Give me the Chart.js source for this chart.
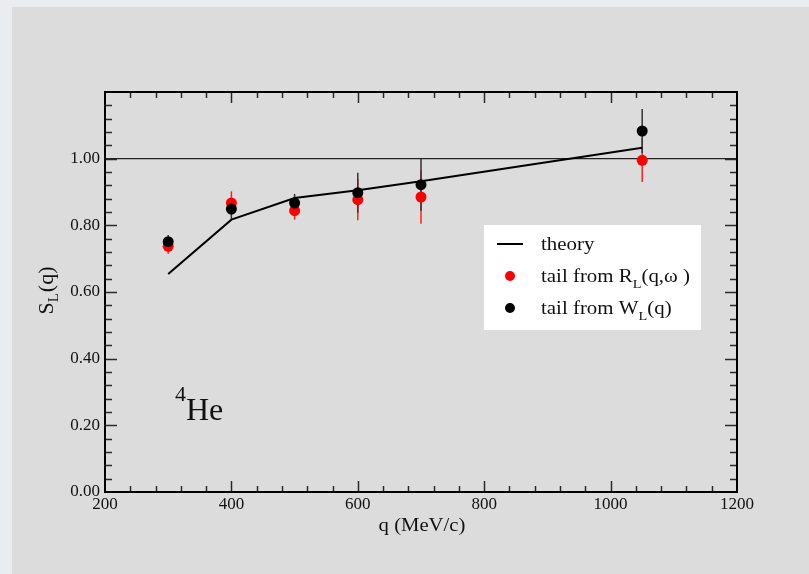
<!DOCTYPE html>
<html>
<head>
<meta charset="utf-8">
<script src="https://cdn.jsdelivr.net/npm/chart.js@4.4.0/dist/chart.umd.min.js"></script>
<style>
  html, body { margin: 0; padding: 0; background: #eaedf0; }
  #wrap { position: absolute; left: 0; top: 0; width: 809px; height: 574px; }
</style>
</head>
<body>
<div id="wrap"><canvas id="chart" width="809" height="574"></canvas></div>
<script>
// data
const qTheory = [300, 400, 500, 600, 700, 1050];
const sTheory = [0.654, 0.817, 0.882, 0.905, 0.932, 1.033];

const qData = [300, 400, 500, 600, 700, 1050];
const sR = [0.737, 0.867, 0.844, 0.877, 0.885, 0.995];   // tail from R_L(q,w)
const errR = [0.022, 0.035, 0.027, 0.062, 0.080, 0.065];
const sW = [0.751, 0.849, 0.867, 0.898, 0.922, 1.083];   // tail from W_L(q)
const errW = [0.020, 0.030, 0.027, 0.060, 0.078, 0.066];

const qRef = [200, 1200];
const sRef = [1.0, 1.0];

const SERIF = "'Liberation Serif', 'DejaVu Serif', serif";

function pts(xs, ys){ return xs.map((x,i)=>({x, y: ys[i]})); }

// background: light strip + gray panel
const bgPlugin = {
  id: 'bg',
  beforeDraw(chart){
    const c = chart.ctx;
    c.save();
    c.fillStyle = '#eaedf0';
    c.fillRect(0, 0, chart.width, chart.height);
    c.fillStyle = '#dcdcdc';
    c.fillRect(12, 7, chart.width - 12, chart.height - 7);
    c.restore();
  }
};

// vertical error bars
const errPlugin = {
  id: 'errbars',
  beforeDatasetsDraw(chart){
    const c = chart.ctx, xs = chart.scales.x, ys = chart.scales.y;
    c.save();
    chart.data.datasets.forEach(ds=>{
      if (!ds.errors) return;
      c.strokeStyle = ds.errColor;
      c.lineWidth = 1.5;
      ds.data.forEach((p,i)=>{
        const px = xs.getPixelForValue(p.x);
        c.beginPath();
        c.moveTo(px, ys.getPixelForValue(p.y + ds.errors[i]));
        c.lineTo(px, ys.getPixelForValue(p.y - ds.errors[i]));
        c.stroke();
      });
    });
    c.restore();
  }
};

// text stretched a little sideways, like the original
function wideText(c, txt, x, y, sx){
  c.save();
  c.translate(x, y);
  c.scale(sx, 1);
  c.fillText(txt, 0, 0);
  c.restore();
  return c.measureText(txt).width * sx;
}

// frame, inward ticks, titles, legend, label
const decoPlugin = {
  id: 'deco',
  afterDraw(chart){
    const c = chart.ctx, a = chart.chartArea, xs = chart.scales.x, ys = chart.scales.y;
    c.save();
    // ticks
    c.strokeStyle = '#2a2a2a';
    c.lineWidth = 1.5;
    for (let v = 240; v < 1200; v += 40){
      const major = (v % 200) === 0;
      const len = major ? 11 : 6;
      const px = Math.round(xs.getPixelForValue(v)) + 0.5;
      c.beginPath();
      c.moveTo(px, a.bottom); c.lineTo(px, a.bottom - len);
      c.moveTo(px, a.top); c.lineTo(px, a.top + len);
      c.stroke();
    }
    for (let k = 1; k < 30; k++){
      const v = k * 0.04;
      const major = (k % 5) === 0;
      const len = major ? 12 : 7;
      const py = Math.round(ys.getPixelForValue(v)) + 0.5;
      c.beginPath();
      c.moveTo(a.left, py); c.lineTo(a.left + len, py);
      c.moveTo(a.right, py); c.lineTo(a.right - len, py);
      c.stroke();
    }
    // frame
    c.strokeStyle = '#000';
    c.lineWidth = 2;
    c.strokeRect(a.left, a.top, a.right - a.left, a.bottom - a.top);

    c.fillStyle = '#111';
    c.textBaseline = 'alphabetic';
    c.textAlign = 'left';
    // x title
    c.font = '18px ' + SERIF;
    const wx = c.measureText('q (MeV/c)').width * 1.15;
    wideText(c, 'q (MeV/c)', 422 - wx/2, 531, 1.15);

    // y title S_L(q), rotated
    c.save();
    c.translate(53, 291);
    c.rotate(-Math.PI/2);
    c.font = '22px ' + SERIF;
    const wS = c.measureText('S').width;
    c.font = '15px ' + SERIF;
    const wL = c.measureText('L').width;
    c.font = '22px ' + SERIF;
    const wQ = c.measureText('(q)').width;
    let x0 = -(wS + wL + wQ) / 2;
    c.fillText('S', x0, 0);
    c.font = '15px ' + SERIF;
    c.fillText('L', x0 + wS, 5);
    c.font = '22px ' + SERIF;
    c.fillText('(q)', x0 + wS + wL + 1, 0);
    c.restore();

    // 4He
    c.font = '22px ' + SERIF;
    c.fillText('4', 175, 401);
    c.font = '32px ' + SERIF;
    c.fillText('He', 186, 420);

    // legend
    c.fillStyle = '#ffffff';
    c.fillRect(484, 225, 217, 105);
    c.strokeStyle = '#000';
    c.lineWidth = 2;
    c.beginPath(); c.moveTo(497, 244); c.lineTo(523, 244); c.stroke();
    c.fillStyle = '#ff0000';
    c.beginPath(); c.arc(510, 276, 5, 0, Math.PI*2); c.fill();
    c.fillStyle = '#000';
    c.beginPath(); c.arc(510, 308, 5, 0, Math.PI*2); c.fill();

    c.fillStyle = '#111';
    c.font = '19px ' + SERIF;
    wideText(c, 'theory', 541, 250, 1.1);
    function sub(x, y, main, s, rest){
      c.font = '19px ' + SERIF;
      x += wideText(c, main, x, y, 1.1);
      c.font = '13px ' + SERIF;
      x += wideText(c, s, x, y + 6, 1.1);
      c.font = '19px ' + SERIF;
      wideText(c, rest, x, y, 1.1);
    }
    sub(541, 282, 'tail from R', 'L', '(q,\u03c9 )');
    sub(541, 314, 'tail from W', 'L', '(q)');
    c.restore();
  }
};

new Chart(document.getElementById('chart'), {
  type: 'scatter',
  data: {
    datasets: [
      { label: 'ref', data: pts(qRef, sRef), showLine: true, borderColor: '#222', borderWidth: 1.3,
        pointRadius: 0, order: 3 },
      { label: 'theory', data: pts(qTheory, sTheory), showLine: true, borderColor: '#000', borderWidth: 2,
        pointRadius: 0, tension: 0, order: 2 },
      { label: 'tail from R_L(q,w)', data: pts(qData, sR), backgroundColor: '#ff0000', borderWidth: 0,
        pointRadius: 5.5, errors: errR, errColor: '#ff2020', order: 1 },
      { label: 'tail from W_L(q)', data: pts(qData, sW), backgroundColor: '#000', borderWidth: 0,
        pointRadius: 5.5, errors: errW, errColor: '#333', order: 0 }
    ]
  },
  options: {
    responsive: false,
    animation: false,
    layout: { padding: { left: 0, top: 92, right: 72, bottom: 0 } },
    plugins: { legend: { display: false }, tooltip: { enabled: false } },
    scales: {
      x: {
        type: 'linear', min: 200, max: 1200,
        grid: { display: false, drawTicks: false }, border: { display: false },
        ticks: { stepSize: 200, padding: 2, color: '#111', font: { family: SERIF, size: 17 },
                 maxRotation: 0, callback: v => String(v) },
        afterFit(s){ s.height = 82; }
      },
      y: {
        min: 0, max: 1.2,
        grid: { display: false, drawTicks: false }, border: { display: false },
        ticks: { stepSize: 0.2, padding: 5, color: '#111', font: { family: SERIF, size: 17 },
                 callback: v => v > 1.1 ? '' : v.toFixed(2) },
        afterFit(s){ s.width = 105; }
      }
    }
  },
  plugins: [bgPlugin, errPlugin, decoPlugin]
});
</script>
</body>
</html>
